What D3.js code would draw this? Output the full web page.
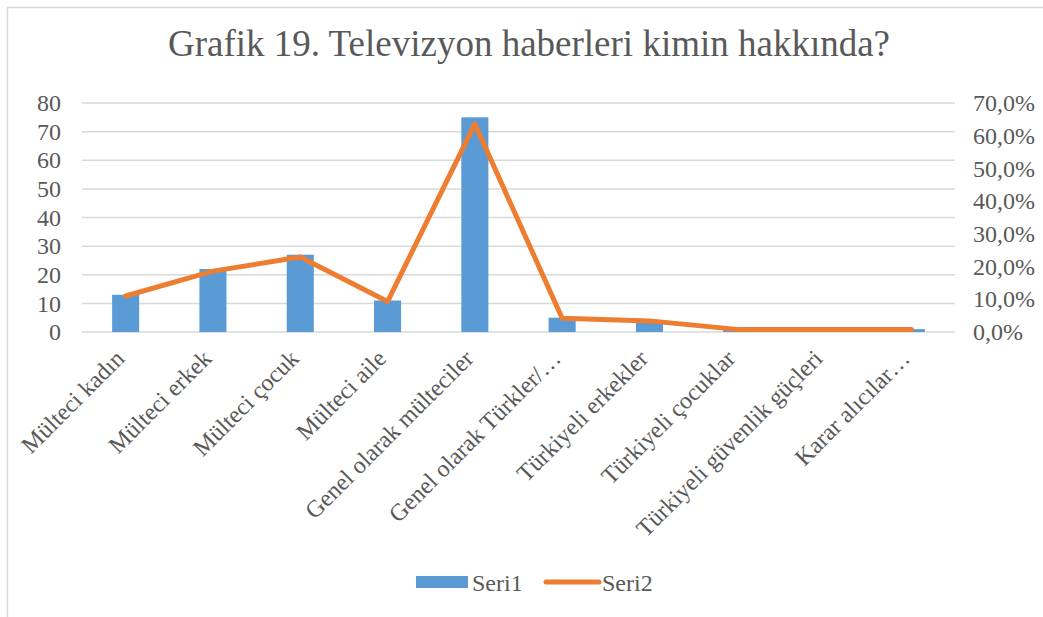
<!DOCTYPE html>
<html>
<head>
<meta charset="utf-8">
<script src="https://cdn.jsdelivr.net/npm/d3@7"></script>
<style>
  body { margin: 0; background: #fff; }
  svg text { font-family: "Liberation Serif", "Times New Roman", serif !important; fill: #595959; }
</style>
</head>
<body>
<svg id="chart" width="1043" height="617"></svg>
<script>
const categories = ["Mülteci kadın", "Mülteci erkek", "Mülteci çocuk", "Mülteci aile",
  "Genel olarak mülteciler", "Genel olarak Türkler/…", "Türkiyeli erkekler",
  "Türkiyeli çocuklar", "Türkiyeli güvenlik güçleri", "Karar alıcılar…"];
const seri1 = [13, 22, 27, 11, 75, 5, 4, 1, 1, 1];
const seri2 = [0.110, 0.186, 0.229, 0.093, 0.636, 0.042, 0.034, 0.008, 0.008, 0.008];
const leftTicks = [0, 10, 20, 30, 40, 50, 60, 70, 80];
const rightTicks = [0, 0.1, 0.2, 0.3, 0.4, 0.5, 0.6, 0.7];

const svg = d3.select("#chart");
const margin = { top: 103, left: 82, right: 88, bottom: 285 };
const W = 1043, H = 617;
const plotW = W - margin.left - margin.right, plotH = H - margin.top - margin.bottom;
const serif = '"Liberation Serif", "Times New Roman", serif';

// chart frame
svg.append("path")
  .attr("d", `M7.5,${H} V7.5 H${W}`)
  .attr("fill", "none").attr("stroke", "#d9d9d9").attr("stroke-width", 1.5);

svg.append("text")
  .attr("x", 529).attr("y", 56)
  .attr("text-anchor", "middle")
  .style("font-size", "37px")
  .text("Grafik 19. Televizyon haberleri kimin hakkında?");

const g = svg.append("g").attr("transform", `translate(${margin.left},${margin.top})`);

const x = d3.scaleBand().domain(categories).range([0, plotW]).paddingInner(0.69).paddingOuter(0.345);
const yL = d3.scaleLinear().domain([0, 80]).range([plotH, 0]);
const yR = d3.scaleLinear().domain([0, 0.7]).range([plotH, 0]);

// gridlines
g.selectAll(".grid").data(leftTicks).enter().append("line")
  .attr("x1", 0).attr("x2", plotW)
  .attr("y1", d => yL(d)).attr("y2", d => yL(d))
  .attr("stroke", "#d9d9d9").attr("stroke-width", 1.5);

const leftAxis = g.append("g").call(d3.axisLeft(yL).tickValues(leftTicks).tickSize(0).tickPadding(21));
leftAxis.attr("font-family", serif);
leftAxis.select(".domain").remove();
leftAxis.selectAll("text").style("font-size", "24px").style("font-family", serif).attr("fill", "#595959");

const fmt = d => (d * 100).toFixed(1).replace(".", ",") + "%";
const rightAxis = g.append("g").attr("transform", `translate(${plotW},0)`)
  .call(d3.axisRight(yR).tickValues(rightTicks).tickFormat(fmt).tickSize(0).tickPadding(18));
rightAxis.attr("font-family", serif);
rightAxis.select(".domain").remove();
rightAxis.selectAll("text").style("font-size", "24px").style("font-family", serif).attr("fill", "#595959");

g.selectAll(".bar").data(seri1).enter().append("rect")
  .attr("x", (d, i) => x(categories[i]))
  .attr("width", x.bandwidth())
  .attr("y", d => yL(d))
  .attr("height", d => plotH - yL(d))
  .attr("fill", "#5b9bd5");

const line = d3.line()
  .x((d, i) => x(categories[i]) + x.bandwidth() / 2)
  .y(d => yR(d));
g.append("path").datum(seri2)
  .attr("d", line)
  .attr("fill", "none").attr("stroke", "#ed7d31").attr("stroke-width", 5)
  .attr("stroke-linejoin", "round").attr("stroke-linecap", "round");

// category labels
const xAxis = g.append("g").attr("transform", `translate(0,${plotH})`)
  .call(d3.axisBottom(x).tickSize(0).tickPadding(0));
xAxis.attr("font-family", serif);
xAxis.select(".domain").remove();
xAxis.selectAll("text")
  .style("font-size", "24px").style("font-family", serif).attr("fill", "#595959")
  .attr("text-anchor", "end")
  .attr("dy", 0)
  .attr("y", 0)
  .attr("transform", "translate(0,28) rotate(-45)");

// legend
const leg = svg.append("g");
leg.append("rect").attr("x", 416).attr("y", 576).attr("width", 52).attr("height", 12).attr("fill", "#5b9bd5");
leg.append("text").attr("x", 472).attr("y", 591).style("font-size", "24px").text("Seri1");
leg.append("line").attr("x1", 546).attr("x2", 599).attr("y1", 582).attr("y2", 582)
  .attr("stroke", "#ed7d31").attr("stroke-width", 5).attr("stroke-linecap", "round");
leg.append("text").attr("x", 602).attr("y", 591).style("font-size", "24px").text("Seri2");
</script>
</body>
</html>
